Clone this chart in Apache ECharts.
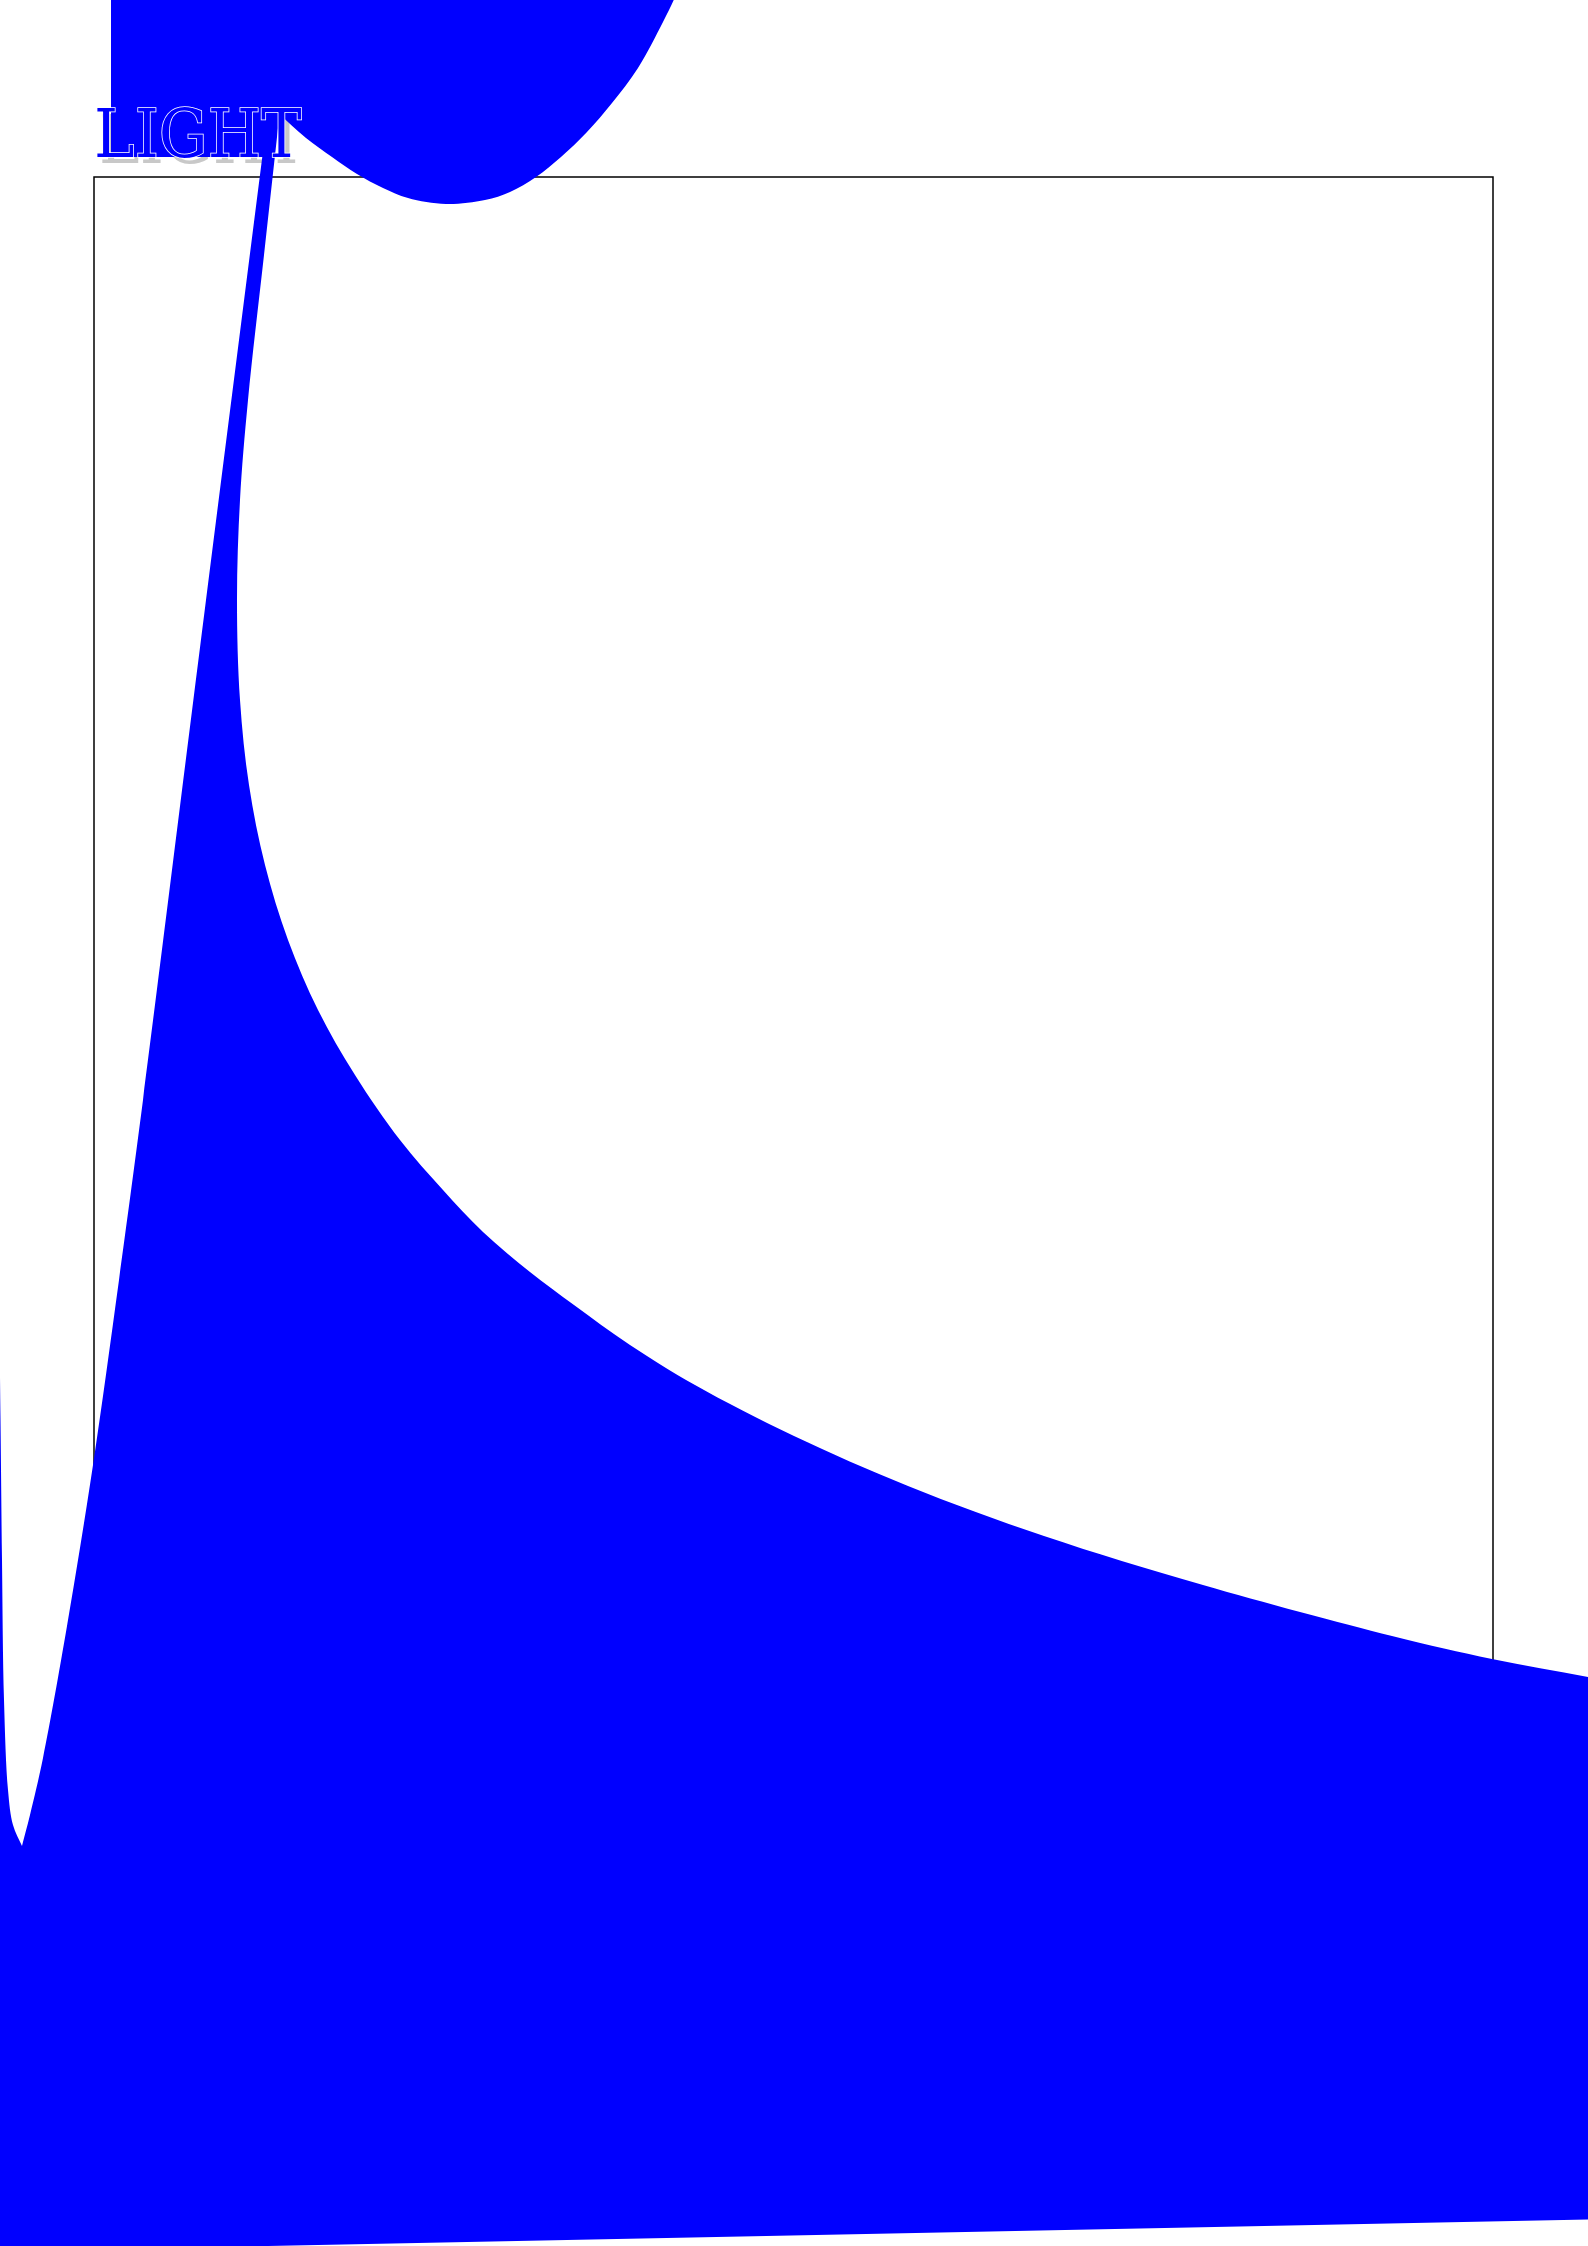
<!DOCTYPE html>
<html>
<head>
<meta charset="utf-8">
<script src="https://cdn.jsdelivr.net/npm/echarts@6/dist/echarts.min.js"></script>
<style>
html,body{margin:0;padding:0;background:#fff;}
#chart{width:1588px;height:2246px;}
</style>
</head>
<body>
<div id="chart"></div>
<script>
// Title text
const titleText = 'LIGHT';

// Upper blob: straight edges (x, y in plot units, y measured downward from the plot top)
const blobEdges = [[17, -230], [17, -20], [178, -20], [185, -65]];
// Upper blob: curved lower boundary
const blobCurve = [[184, -64], [212, -39], [238, -20], [263, -3], [289, 11], [314, 21],
                   [352, 27], [391, 23], [416, 15], [442, 0], [467, -20], [493, -45],
                   [518, -74], [544, -109], [569, -155], [582, -182], [602, -230]];

// Lower region: left edge of the thin stroke, down to the tip of the U
const strokeEdge = [[174, -65], [112, 423], [49, 923], [25, 1103], [-1, 1288],
                    [-27, 1449], [-51, 1581], [-64, 1638], [-72, 1669]];
// Lower region: left branch of the U, going back up
const uBranch = [[-72, 1669], [-81, 1648], [-86, 1613], [-90, 1523], [-92, 1383],
                 [-93.5, 1243], [-95, 1123], [-98, 923], [-104, 723]];
// Lower region: outer corners (off the left, bottom and right edges)
const lowerCorners = [[-124, 723], [-124, 2075], [1516, 2042], [1516, 1505]];
// Lower region: the long falling curve, right to left, back to the apex
const bigCurve = [[1494, 1500], [1398, 1482], [1298, 1459], [1109, 1408], [950, 1359],
                  [814, 1309], [700, 1259], [601, 1208], [536, 1168], [480, 1128],
                  [436, 1095], [389, 1055], [349, 1013], [306, 963], [261, 898],
                  [224, 833], [194, 763], [171, 688], [155, 608], [146, 523],
                  [143, 423], [146, 323], [154, 223], [170, 78], [186, -67]];

const chart = echarts.init(document.getElementById('chart'), null, {renderer: 'canvas'});

// centripetal Catmull-Rom spline through the given pixel points, as cubic bezier commands
function spline(pts) {
  let d = '';
  const dist = (a, b) => Math.sqrt(Math.hypot(b[0] - a[0], b[1] - a[1]));
  for (let i = 0; i < pts.length - 1; i++) {
    const p0 = pts[Math.max(i - 1, 0)], p1 = pts[i], p2 = pts[i + 1], p3 = pts[Math.min(i + 2, pts.length - 1)];
    const d1 = dist(p0, p1), d2 = dist(p1, p2), d3 = dist(p2, p3);
    let c1, c2;
    if (d1 < 1e-6) {
      c1 = [p1[0] + (p2[0] - p1[0]) / 3, p1[1] + (p2[1] - p1[1]) / 3];
    } else {
      const a = 2 * d1 * d1 + 3 * d1 * d2 + d2 * d2, n = 3 * d1 * (d1 + d2);
      c1 = [(d1 * d1 * p2[0] - d2 * d2 * p0[0] + a * p1[0]) / n,
            (d1 * d1 * p2[1] - d2 * d2 * p0[1] + a * p1[1]) / n];
    }
    if (d3 < 1e-6) {
      c2 = [p2[0] - (p2[0] - p1[0]) / 3, p2[1] - (p2[1] - p1[1]) / 3];
    } else {
      const b = 2 * d3 * d3 + 3 * d3 * d2 + d2 * d2, m = 3 * d3 * (d3 + d2);
      c2 = [(d3 * d3 * p1[0] - d2 * d2 * p3[0] + b * p2[0]) / m,
            (d3 * d3 * p1[1] - d2 * d2 * p3[1] + b * p2[1]) / m];
    }
    d += ' C' + c1[0] + ' ' + c1[1] + ' ' + c2[0] + ' ' + c2[1] + ' ' + p2[0] + ' ' + p2[1];
  }
  return d;
}
function lines(pts) {
  return pts.map(p => ' L' + p[0] + ' ' + p[1]).join('');
}

function renderItem(params, api) {
  const c = p => api.coord(p);
  const e = blobEdges.map(c), bc = blobCurve.map(c);
  const dA = 'M' + e[0][0] + ' ' + e[0][1] + lines(e.slice(1)) + lines([bc[0]]) + spline(bc) + ' Z';
  const se = strokeEdge.map(c), ub = uBranch.map(c), lc = lowerCorners.map(c), bg = bigCurve.map(c);
  const dC = 'M' + se[0][0] + ' ' + se[0][1] + spline(se) + spline(ub) + lines(lc) + lines([bg[0]]) + spline(bg) + ' Z';
  const style = {fill: '#0000ff', stroke: null};
  return {
    type: 'group',
    children: [
      {type: 'path', shape: {pathData: dA}, style: style},
      {type: 'path', shape: {pathData: dC}, style: style}
    ]
  };
}

const fontFam = "'DejaVu Serif Condensed', 'DejaVu Serif', serif";
const option = {
  animation: false,
  backgroundColor: '#fff',
  title: [
    {text: titleText, left: 99, top: 111, padding: 0, z: 1,
     textStyle: {color: '#c8c8c8', fontFamily: fontFam, fontSize: 68, fontWeight: 'normal'}},
    {text: titleText, left: 94, top: 105, padding: 0, z: 10,
     textStyle: {color: '#0000ff', fontFamily: fontFam, fontSize: 68, fontWeight: 'normal',
                 textBorderColor: '#ffffff', textBorderWidth: 1.5}}
  ],
  grid: {left: 94, top: 177, right: 95, bottom: 200, show: true,
         borderColor: '#000', borderWidth: 1.5, backgroundColor: 'transparent'},
  xAxis: {type: 'value', min: 0, max: 1399, show: false},
  yAxis: {type: 'value', min: 0, max: 1869, inverse: true, show: false},
  series: [{
    type: 'custom',
    coordinateSystem: 'cartesian2d',
    clip: false,
    z: 2,
    silent: true,
    renderItem: renderItem,
    data: [[0, 0]]
  }]
};
chart.setOption(option);
</script>
</body>
</html>
